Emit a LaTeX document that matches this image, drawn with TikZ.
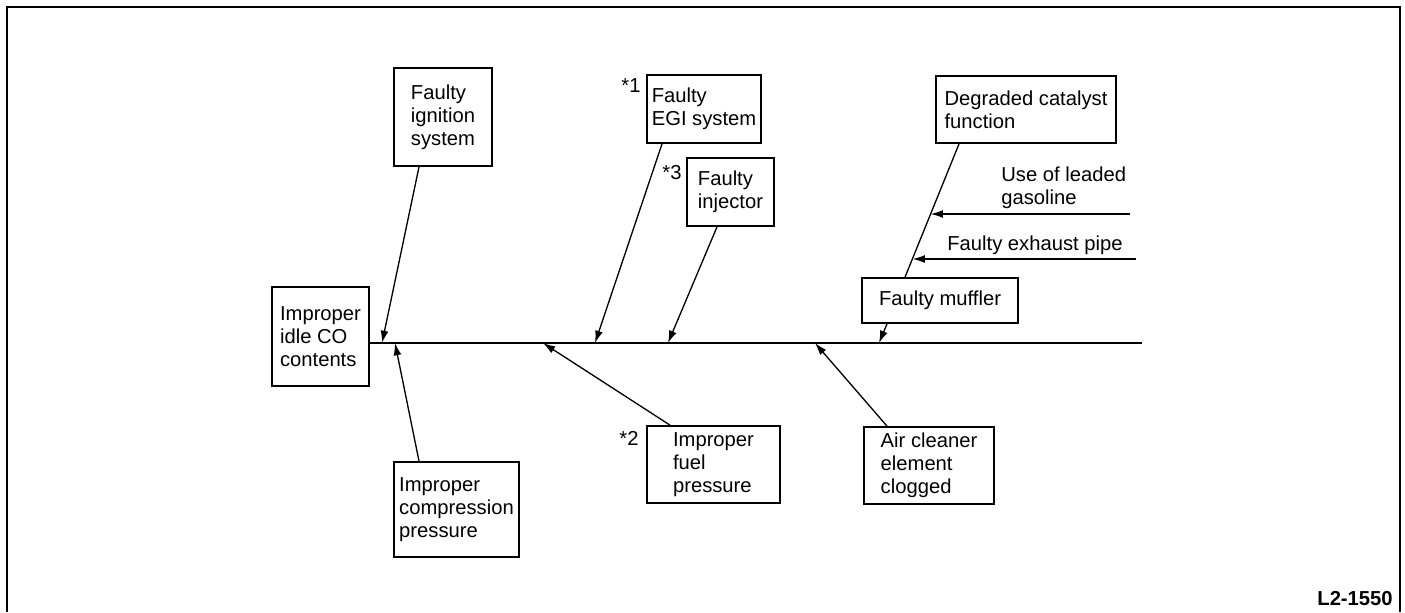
\documentclass[tikz,border=0pt]{standalone}
\usepackage{fontspec}
\setmainfont{Liberation Sans}
\usetikzlibrary{arrows.meta, calc}
\tikzset{
  causa/.style={rectangle, draw, line width=1pt, align=left, inner sep=2pt, font=\fontsize{11.5}{13}\selectfont},
  nota/.style={inner sep=0pt, font=\fontsize{11.5}{13}\selectfont},
  flecha/.style={-{Latex[length=7pt,width=4.5pt]}, line width=0.75pt},
  linea/.style={line width=0.75pt}
}

\begin{document}
\begin{tikzpicture}[x=0.02cm, y=-0.02cm]
  \useasboundingbox (0,0) rectangle (1405,612);

  % --- Marco ---
  \draw[line width=1.1pt] (7,612) -- (7,7) -- (1400,7) -- (1400,612);
  \node[nota, anchor=south east, font=\fontsize{11.5}{13}\selectfont\bfseries] (codigo) at (1393,606) {L2-1550};

  % --- Efecto y espina ---
  \node[causa, minimum width=1.94cm, minimum height=1.98cm] (efecto) at (320.5,336.5) {Improper\\idle CO\\contents};
  \coordinate (cola) at (1142,343);
  \draw[line width=1pt] (efecto.east |- cola) -- (cola);

  % --- Causas ---
  \node[causa, minimum width=1.96cm, minimum height=1.96cm] (encendido) at (443,117) {Faulty\\ignition\\system};
  \node[causa, minimum width=2.5cm, minimum height=1.9cm] (compresion) at (456.5,509.5) {Improper\\compression\\pressure};
  \node[causa, minimum width=2.28cm, minimum height=1.36cm] (egi) at (704,109) {Faulty\\EGI system};
  \node[causa, minimum width=1.74cm, minimum height=1.36cm] (inyector) at (730.5,192) {Faulty\\injector};
  \node[causa, minimum width=2.66cm, minimum height=1.54cm] (combustible) at (713.5,464.5) {Improper\\fuel\\pressure};
  \node[causa, minimum width=3.6cm, minimum height=1.34cm] (catalizador) at (1026,109.5) {Degraded catalyst\\function};
  \node[causa, minimum width=3.12cm, minimum height=0.9cm] (silenciador) at (940,300.5) {Faulty muffler};
  \node[causa, minimum width=2.6cm, minimum height=1.54cm] (filtro) at (929,465.5) {Air cleaner\\element\\clogged};

  % --- Notas ---
  \node[nota] (n1) at (631,86) {*1};
  \node[nota] (n3) at (672,173) {*3};
  \node[nota] (n2) at (629,438) {*2};

  % --- Puntos sobre la espina ---
  \coordinate (p1) at (382,343);
  \coordinate (p2) at (395,343);
  \coordinate (p3) at (543,343);
  \coordinate (p4) at (595,343);
  \coordinate (p5) at (668,343);
  \coordinate (p6) at (815,343);
  \coordinate (p7) at (879,343);

  % ================= FLECHAS =================
  \draw[flecha] ([xshift=-0.48cm]encendido.south) -- (p1);
  \draw[flecha] ([xshift=-0.75cm]compresion.north) -- (p2);
  \draw[flecha] ([xshift=-0.87cm]combustible.north) -- (p3);
  \draw[flecha] ([xshift=-0.84cm]egi.south) -- (p4);
  \draw[flecha] ([xshift=-0.27cm]inyector.south) -- (p5);
  \draw[flecha] ([xshift=-0.84cm]filtro.north) -- (p6);
  \draw[flecha] ([xshift=-1.06cm]silenciador.south) -- (p7);

  % --- Rama del catalizador ---
  \coordinate (catA) at ([xshift=-1.34cm]catalizador.south);
  \coordinate (silA) at ([xshift=-0.7cm]silenciador.north);
  \draw[linea] (catA) -- (silA);
  \coordinate (entrada1) at ($(catA)!0.526!(silA)$);
  \coordinate (entrada2) at ($(catA)!0.859!(silA)$);
  \coordinate (fuente1) at (1130,214);
  \coordinate (fuente2) at (1136,259);
  \draw[flecha] (fuente1) -- (fuente1 -| entrada1);
  \draw[flecha] (fuente2) -- (fuente2 -| entrada2);
  \node[nota, align=left, anchor=south west] (plomo) at (1001,209) {Use of leaded\\gasoline};
  \node[nota, anchor=south west] (escape) at (947,255) {Faulty exhaust pipe};
\end{tikzpicture}
\end{document}
